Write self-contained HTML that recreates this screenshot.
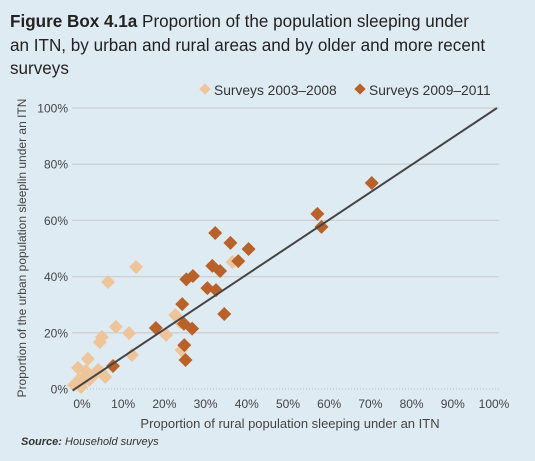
<!DOCTYPE html>
<html><head><meta charset="utf-8"><style>
body{margin:0;background:#dfebf3;}
svg{display:block;font-family:"Liberation Sans",sans-serif;}
</style></head><body>
<svg width="535" height="461" viewBox="0 0 535 461">
<rect width="535" height="461" fill="#dfebf3"/>
<text x="10" y="27" font-size="17.1" fill="#222"><tspan font-weight="bold">Figure Box 4.1a</tspan> Proportion of the population sleeping under</text>
<text x="10" y="51" font-size="17.1" fill="#222">an ITN, by urban and rural areas and by older and more recent</text>
<text x="10" y="74" font-size="17.1" fill="#222">surveys</text>
<g>
<g>
<rect x="201" y="85" width="8" height="8" transform="rotate(45 205 89)" fill="#eec49a"/>
<text x="214" y="95" font-size="13.8" fill="#333">Surveys 2003–2008</text></g>
<g>
<rect x="356" y="85" width="8" height="8" transform="rotate(45 360 89)" fill="#b8612a"/>
<text x="369" y="95" font-size="13.8" fill="#333">Surveys 2009–2011</text></g>
</g>
<g id="grid"></g><g id="axes"></g><g id="pts"></g>
<text transform="translate(26,248) rotate(-90)" text-anchor="middle" font-size="12" fill="#444">Proportion of the urban population sleeplin under an ITN</text>
<text x="290" y="428" text-anchor="middle" font-size="13" fill="#444">Proportion of rural population sleeping under an ITN</text>
<text x="21" y="445" font-size="11" font-style="italic" fill="#333"><tspan font-weight="bold">Source:</tspan> Household surveys</text>
</svg>
<script>
const ticks=[0,10,20,30,40,50,60,70,80,90,100];
const yTicks=[0,20,40,60,80,100];
const oldX=[12.4,5.6,35.8,21.9,23.1,19.7,23.4,7.5,10.7,4.1,3.6,11.4,0.7,-1.7,0.2,3.2,4.1,4.9,-0.2,-1.5,-0.7,-2.7,-1,1,1.7];
const oldY=[43.4,38.1,45.2,26.3,23.8,19.2,13.9,22.1,19.9,18.5,16.7,12.1,10.7,7.5,6.4,6.8,5.7,4.3,4.3,3.2,2.5,1.4,0.7,3.2,4.3];
const newX=[69.6,56.4,57.4,31.6,35.3,39.7,30.9,32.8,37.2,24.6,26.2,29.7,31.8,23.6,33.8,24,26,24.1,24.4,17.2,6.8];
const newY=[73.3,62.3,57.7,55.5,52,49.8,43.8,42,45.5,39,40.2,35.9,35.2,30.2,26.7,23.2,21.5,15.6,10.3,21.7,8.2];
const NS="http://www.w3.org/2000/svg";
const xs=v=>85+v*4.12, ys=v=>389-v*2.81;
function mk(t,a,p){const e=document.createElementNS(NS,t);for(const k in a)e.setAttribute(k,a[k]);p.appendChild(e);return e;}
const grid=document.getElementById('grid'),axes=document.getElementById('axes'),pts=document.getElementById('pts');
yTicks.forEach(v=>{
 const l=mk('line',{x1:72,x2:499,y1:ys(v),y2:ys(v),stroke:v===0?'#bbb':'#cfcfcf','stroke-width':v===0?1:1.3,'stroke-dasharray':v===0?'1 2':'none'},grid);
 
 
 const t=mk('text',{x:68,y:ys(v)+4.5,'text-anchor':'end','font-size':12,fill:'#444'},axes);
 t.textContent=v+'%';
 
 
});
ticks.forEach(v=>{
 const t=mk('text',{x:xs(v)-3,y:408,'text-anchor':'middle','font-size':12,fill:'#444'},axes);
 t.textContent=v+'%';
 
 
});
function dia(x,y,c,name){
 const cx=xs(x),cy=ys(y);
 const p=mk('polygon',{points:`${cx},${cy-7} ${cx+7},${cy} ${cx},${cy+7} ${cx-7},${cy}`,fill:c},pts);
 
 
}
oldX.forEach((x,i)=>dia(x,oldY[i],'#eec49a','point-2003-2008'));
newX.forEach((x,i)=>dia(x,newY[i],'#b8612a','point-2009-2011'));
const ln=mk('line',{x1:xs(-3),y1:ys(-0.5),x2:xs(100),y2:ys(100),stroke:'#444','stroke-width':2},pts);


</script>
</body></html>
